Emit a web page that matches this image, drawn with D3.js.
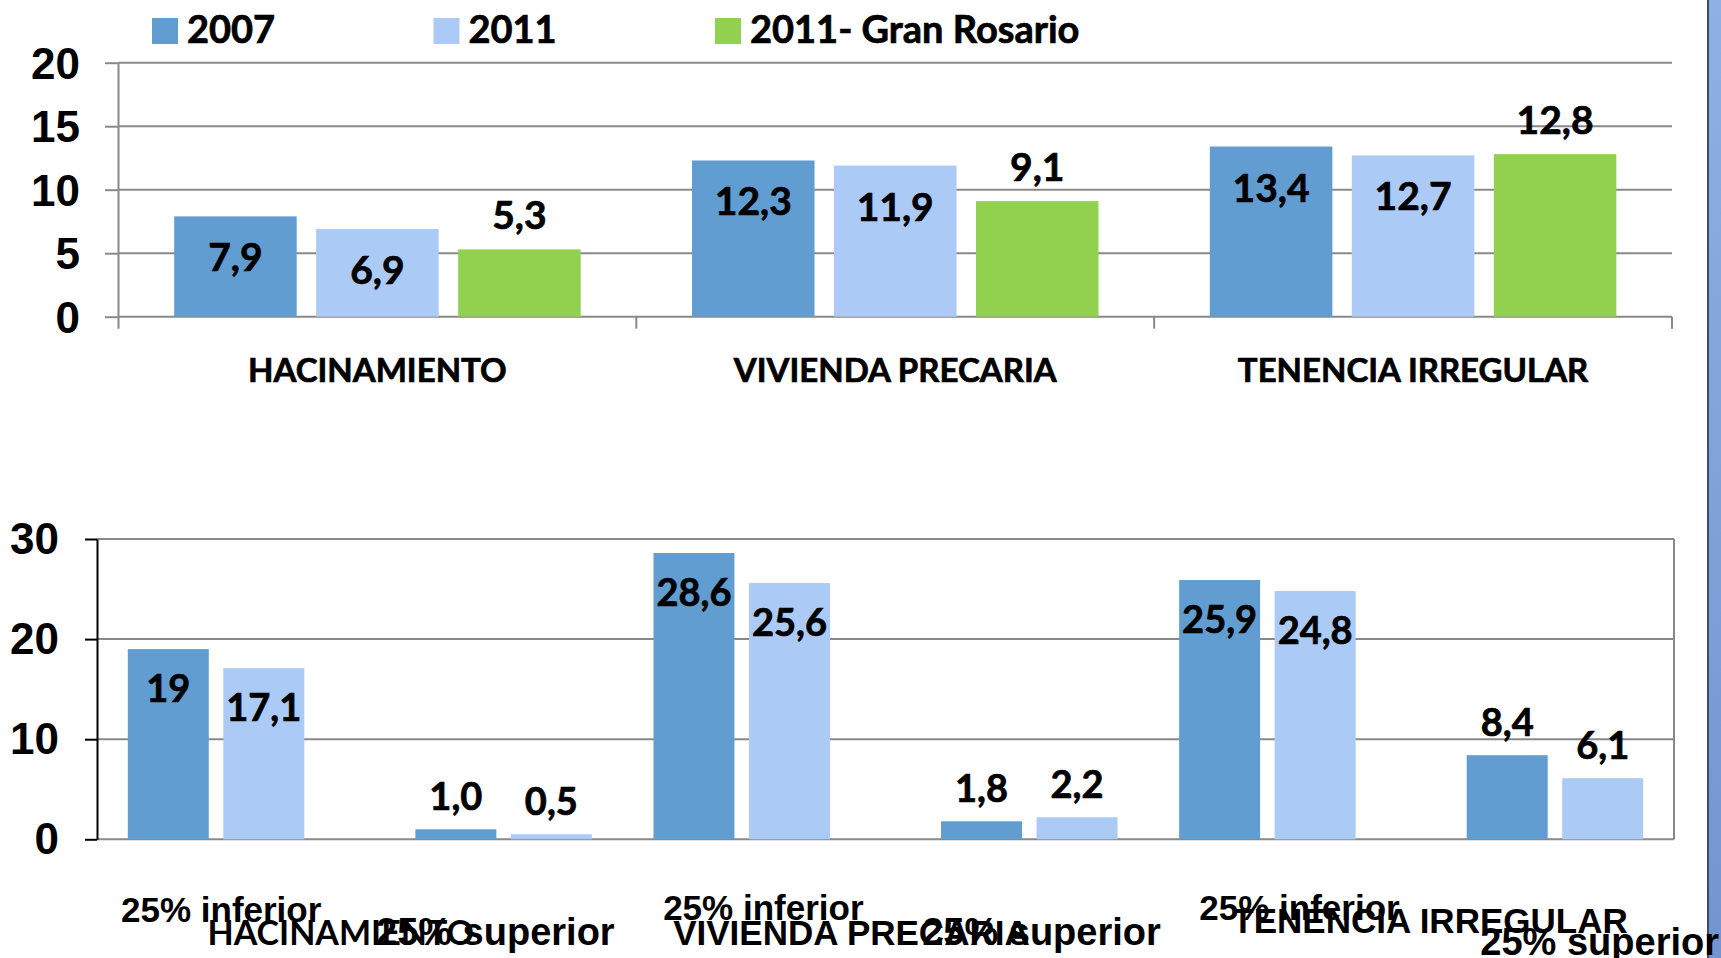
<!DOCTYPE html>
<html>
<head>
<meta charset="utf-8">
<script src="https://cdn.jsdelivr.net/npm/d3@7"></script>
<style>
  body { margin: 0; background: #fff; }
  svg { display: block; }
</style>
</head>
<body>
<script>
// ---- data ----
var series = ["2007", "2011", "2011- Gran Rosario"];
var categories = ["HACINAMIENTO", "VIVIENDA PRECARIA", "TENENCIA IRREGULAR"];
var values2007 = [7.9, 12.3, 13.4];
var values2011 = [6.9, 11.9, 12.7];
var valuesRosario = [5.3, 9.1, 12.8];
var topTicks = [0, 5, 10, 15, 20];

var quartiles = ["25% inferior", "25% superior"];
var inferior2007 = ["19", "28,6", "25,9"];
var inferior2011 = ["17,1", "25,6", "24,8"];
var superior2007 = ["1,0", "1,8", "8,4"];
var superior2011 = ["0,5", "2,2", "6,1"];
var bottomTicks = [0, 10, 20, 30];

var colors = ["#629dd1", "#abcaf6", "#92d050"];
var num = function(s) { return +String(s).replace(",", "."); };
var fmt = function(v) { return v.toFixed(1).replace(".", ","); };

var W = 1721, H = 958;
var svg = d3.select("body").append("svg")
    .attr("width", W)
    .attr("height", H);

// slide background strip on the right
var grad = svg.append("defs").append("linearGradient")
    .attr("id", "strip")
    .attr("x1", 0).attr("y1", 0).attr("x2", 0).attr("y2", 1);
grad.append("stop").attr("offset", "0%").attr("stop-color", "#8fb0e2");
grad.append("stop").attr("offset", "100%").attr("stop-color", "#7394cf");
svg.append("rect")
    .attr("x", 1708).attr("y", 0)
    .attr("width", W - 1708).attr("height", H)
    .attr("fill", "url(#strip)");
svg.append("line")
    .attr("x1", 1708).attr("x2", 1708)
    .attr("y1", 0).attr("y2", H)
    .attr("stroke", "#3b4c6e")
    .attr("stroke-width", 2);

var calibri = "Lato, 'Open Sans', sans-serif",
    arial = "'Liberation Sans', Arial, sans-serif";

// heavy text like the slide's bold Calibri
function heavy(sel) {
    sel.attr("font-weight", "bold")
        .attr("fill", "#000")
        .attr("stroke", "#000")
        .attr("stroke-width", 0.7);
}

// ================= top chart =================
var topSeries = [values2007, values2011, valuesRosario];
var xTop = d3.scaleBand()
    .domain(categories)
    .range([118.5, 1672])
    .paddingInner(0.215)
    .paddingOuter(0.1075);
var xTopInner = d3.scaleBand()
    .domain(series)
    .range([0, xTop.bandwidth()])
    .paddingInner(0.137);
var yTop = d3.scaleLinear()
    .domain([0, 20])
    .range([316.7, 62.7]);

var gTop = svg.append("g");

gTop.append("g").selectAll("line")
    .data(topTicks)
    .join("line")
        .attr("x1", 118.5)
        .attr("x2", 1672)
        .attr("y1", function(d) { return yTop(d); })
        .attr("y2", function(d) { return yTop(d); })
        .attr("stroke", "#898989")
        .attr("stroke-width", 2);

var yAxisTop = gTop.append("g")
    .attr("transform", "translate(118.5,0)")
    .call(d3.axisLeft(yTop).tickValues(topTicks).tickSize(13.5).tickPadding(25));
yAxisTop.select(".domain").remove();
yAxisTop.selectAll("line").attr("stroke", "#898989").attr("stroke-width", 2);
yAxisTop.selectAll("text")
    .attr("font-family", arial)
    .attr("font-weight", "bold")
    .attr("font-size", 44)
    .attr("fill", "#000")
    .attr("dy", "0.35em");

// vertical axis line and category separators
var step = xTop.step();
var bounds = d3.range(categories.length + 1).map(function(i) { return xTop.range()[0] + i * step; });
gTop.append("line")
    .attr("x1", 118.5).attr("x2", 118.5)
    .attr("y1", yTop(20)).attr("y2", yTop(0) + 12)
    .attr("stroke", "#898989").attr("stroke-width", 2);
gTop.append("g").selectAll("line")
    .data(bounds.slice(1))
    .join("line")
        .attr("x1", function(d) { return d; })
        .attr("x2", function(d) { return d; })
        .attr("y1", yTop(0))
        .attr("y2", yTop(0) + 12)
        .attr("stroke", "#898989")
        .attr("stroke-width", 2);

var topBars = [];
categories.forEach(function(c, i) {
    series.forEach(function(s, j) {
        topBars.push({cat: c, ser: s, j: j, value: topSeries[j][i]});
    });
});

var barTop = gTop.append("g").selectAll("g")
    .data(topBars)
    .join("g")
        .attr("transform", function(d) { return "translate(" + (xTop(d.cat) + xTopInner(d.ser)) + ",0)"; });

barTop.append("rect")
    .attr("x", 0)
    .attr("width", xTopInner.bandwidth())
    .attr("y", function(d) { return yTop(d.value); })
    .attr("height", function(d) { return yTop(0) - yTop(d.value); })
    .attr("fill", function(d) { return colors[d.j]; });

barTop.append("text")
    .attr("x", xTopInner.bandwidth() / 2)
    .attr("y", function(d) { return d.j < 2 ? yTop(d.value) + 55 : yTop(d.value) - 20; })
    .attr("text-anchor", "middle")
    .attr("font-family", calibri)
    .attr("font-size", 39)
    .call(heavy)
    .text(function(d) { return fmt(d.value); });

gTop.append("g").selectAll("text")
    .data(categories)
    .join("text")
        .attr("x", function(d) { return xTop(d) + xTop.bandwidth() / 2; })
        .attr("y", 382)
        .attr("text-anchor", "middle")
        .attr("font-family", calibri)
        .attr("font-size", 33)
        .call(heavy)
        .text(function(d) { return d; });

// legend
var legend = svg.append("g").selectAll("g")
    .data(series)
    .join("g")
        .attr("transform", function(d, i) { return "translate(" + (152 + i * 281.5) + ",18)"; });
legend.append("rect")
    .attr("width", 26)
    .attr("height", 26)
    .attr("fill", function(d, i) { return colors[i]; });
legend.append("text")
    .attr("x", 35)
    .attr("y", 25)
    .attr("font-family", calibri)
    .attr("font-size", 38)
    .call(heavy)
    .text(function(d) { return d; });

// ================= bottom chart =================
var botSeries = [[inferior2007, inferior2011], [superior2007, superior2011]];
var xBot = d3.scaleBand()
    .domain(categories)
    .range([97, 1674]);
var xBotQ = d3.scalePoint()
    .domain(quartiles)
    .range([0, xBot.bandwidth()])
    .padding(0.414);
var xBotS = d3.scaleBand()
    .domain(series.slice(0, 2))
    .range([-88.25, 88.25])
    .paddingInner(0.152);
var yBot = d3.scaleLinear()
    .domain([0, 30])
    .range([839.3, 539]);

var gBot = svg.append("g");

gBot.append("g").selectAll("line")
    .data(bottomTicks)
    .join("line")
        .attr("x1", 97)
        .attr("x2", 1674)
        .attr("y1", function(d) { return yBot(d); })
        .attr("y2", function(d) { return yBot(d); })
        .attr("stroke", "#898989")
        .attr("stroke-width", 2);
gBot.append("line")
    .attr("x1", 1674).attr("x2", 1674)
    .attr("y1", yBot(30)).attr("y2", yBot(0))
    .attr("stroke", "#898989").attr("stroke-width", 2);

var yAxisBot = gBot.append("g")
    .attr("transform", "translate(97,0)")
    .call(d3.axisLeft(yBot).tickValues(bottomTicks).tickSize(12).tickPadding(26).tickSizeOuter(0));
yAxisBot.select(".domain").attr("stroke", "#000").attr("stroke-width", 2);
yAxisBot.selectAll("line").attr("stroke", "#000").attr("stroke-width", 2);
yAxisBot.selectAll("text")
    .attr("font-family", arial)
    .attr("font-weight", "bold")
    .attr("font-size", 44)
    .attr("fill", "#000")
    .attr("dy", "0.33em");

var botBars = [];
categories.forEach(function(c, i) {
    quartiles.forEach(function(q, k) {
        series.slice(0, 2).forEach(function(s, j) {
            var raw = botSeries[k][j][i];
            botBars.push({cat: c, q: k, quart: q, ser: s, j: j, value: num(raw), label: raw});
        });
    });
});

var barBot = gBot.append("g").selectAll("g")
    .data(botBars)
    .join("g")
        .attr("transform", function(d) {
            return "translate(" + (xBot(d.cat) + xBotQ(d.quart) + xBotS(d.ser)) + ",0)";
        });

barBot.append("rect")
    .attr("width", xBotS.bandwidth())
    .attr("y", function(d) { return yBot(d.value); })
    .attr("height", function(d) { return yBot(0) - yBot(d.value); })
    .attr("fill", function(d) { return colors[d.j]; });

barBot.append("text")
    .attr("x", xBotS.bandwidth() / 2)
    .attr("y", function(d) { return d.q === 0 ? yBot(d.value) + 52.5 : yBot(d.value) - 19; })
    .attr("text-anchor", "middle")
    .attr("font-family", calibri)
    .attr("font-size", 38)
    .call(heavy)
    .text(function(d) { return d.label; });

// overlapping two-level category labels, placed as in the original slide
var subOffsets = [[24, 279], [40.5, 299.5], [51, 332]],
    subBaselines = [[921.5, 945], [920, 945], [919.5, 955]],
    subSizes = [35, 38],
    mainOffsets = [110.5, 50.5, 84],
    mainBaselines = [945, 945, 933];

var axisLabels = gBot.append("g")
    .attr("font-weight", "bold")
    .attr("fill", "#000");

categories.forEach(function(c, i) {
    quartiles.forEach(function(q, k) {
        axisLabels.append("text")
            .attr("x", xBot(c) + subOffsets[i][k])
            .attr("y", subBaselines[i][k])
            .attr("font-family", arial)
            .attr("font-size", subSizes[k])
            .text(q);
    });
    axisLabels.append("text")
        .attr("x", xBot(c) + mainOffsets[i])
        .attr("y", mainBaselines[i])
        .attr("font-family", i === 0 ? calibri : arial)
        .attr("font-size", i === 0 ? 34 : 35)
        .text(c);
});
</script>
</body>
</html>
